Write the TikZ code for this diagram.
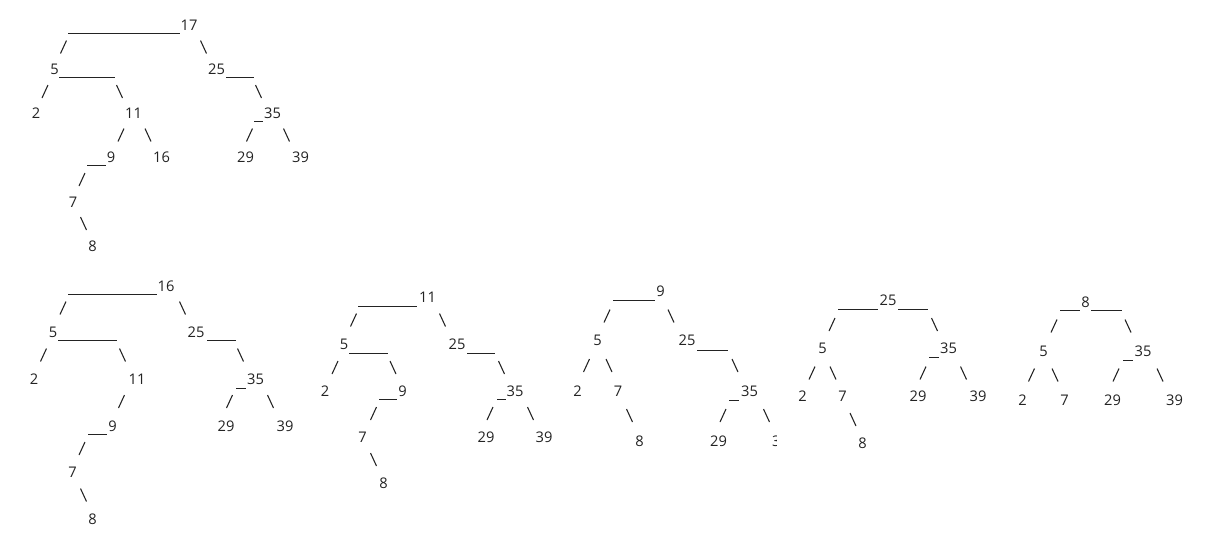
\documentclass[tikz,border=0pt]{standalone}
\usepackage{fontspec}
\setmainfont{Open Sans}
\definecolor{ink}{RGB}{35,35,35}
\tikzset{
  num/.style={inner sep=0pt, anchor=center, text=ink, font=\fontsize{11}{13}\selectfont},
  bar/.style={draw=ink, line width=0.75pt},
  edge/.style={draw=ink, line width=0.8pt},
}
\newcommand\fsl[2]{\draw[edge] (#1-3,#2+6.5) -- (#1+3,#2-6.5);}
\newcommand\bsl[2]{\draw[edge] (#1-3,#2-6.5) -- (#1+3,#2+6.5);}
\newcommand\usc[3]{\draw[bar] (#1,#3) -- (#2,#3);}
\begin{document}
\begin{tikzpicture}[x=0.75pt,y=-0.75pt]
\useasboundingbox (0,0) rectangle (1205,544);
\fill[white] (0,0) rectangle (1205,544);
% ---------- tree 1 ----------
\node[num] (a17) at (189,25.5) {17};
\usc{68}{180}{33.3}
\fsl{63.5}{47} \bsl{203.5}{47}
\node[num] (a5) at (54.5,69) {5}; \usc{59.3}{115}{77.3}
\node[num] (a25) at (216.5,69) {25}; \usc{226}{254}{77.3}
\fsl{45}{91.5} \bsl{119.5}{91.5} \bsl{258.5}{91.5}
\node[num] (a2) at (36,113) {2};
\node[num] (a11) at (133.5,113) {11};
\usc{254}{263}{121.5}
\node[num] (a35) at (272.5,113) {35};
\fsl{121}{135} \bsl{148}{135} \fsl{249.5}{135} \bsl{286.5}{135}
\usc{87}{106}{165.5}
\node[num] (a9) at (111,157) {9};
\node[num] (a16) at (161.5,157) {16};
\node[num] (a29) at (245.5,157) {29};
\node[num] (a39) at (300.5,157) {39};
\fsl{82}{179.5}
\node[num] (a7) at (73,202) {7};
\bsl{83.5}{223.5}
\node[num] (a8) at (92.5,246) {8};
% ---------- tree 2 ----------
\node[num] (b16) at (166,286) {16};
\usc{68}{157}{294}
\fsl{63}{308} \bsl{182.5}{308}
\node[num] (b5) at (53,332.5) {5}; \usc{58}{117}{340.7}
\node[num] (b25) at (196,332.5) {25}; \usc{207}{236}{340.7}
\fsl{43.5}{355} \bsl{122.5}{355} \bsl{240.5}{355}
\node[num] (b2) at (34,379.5) {2};
\node[num] (b11) at (137,379.5) {11};
\usc{236}{246}{388}
\node[num] (b35) at (255.5,379.5) {35};
\fsl{121.5}{401.5} \fsl{229.5}{401.5} \bsl{270.5}{401.5}
\usc{88}{107}{434.5}
\node[num] (b9) at (112.5,426) {9};
\node[num] (b29) at (226,426) {29};
\node[num] (b39) at (285,426) {39};
\fsl{82}{448.5}
\node[num] (b7) at (72.5,472.5) {7};
\bsl{83.5}{495}
\node[num] (b8) at (92.5,519) {8};
% ---------- tree 3 ----------
\node[num] (c11) at (427.5,297.5) {11};
\usc{358}{417}{306}
\fsl{353.5}{320} \bsl{442.5}{320}
\node[num] (c5) at (344,344) {5}; \usc{349}{388}{353}
\node[num] (c25) at (457,344) {25}; \usc{467}{495}{353}
\fsl{335}{367.5} \bsl{393}{367.5} \bsl{501.5}{367.5}
\node[num] (c2) at (325,391) {2};
\usc{379}{397}{399}
\node[num] (c9) at (402.5,391) {9};
\usc{497}{506}{399}
\node[num] (c35) at (515,391) {35};
\fsl{373.5}{413.5} \fsl{490}{413.5} \bsl{530.5}{413.5}
\node[num] (c7) at (362.5,437.5) {7};
\node[num] (c29) at (486,437.5) {29};
\node[num] (c39) at (544,437.5) {39};
\bsl{373.5}{459.5}
\node[num] (c8) at (383.5,483) {8};
% ---------- tree 4 ----------
\node[num] (d9) at (660.5,291) {9};
\usc{613}{655}{300.2}
\fsl{607}{316} \bsl{671}{316}
\node[num] (d5) at (597.5,340.5) {5};
\node[num] (d25) at (687,340.5) {25}; \usc{697}{728}{350}
\fsl{586.5}{365.5} \bsl{609}{365.5} \bsl{735}{365.5}
\node[num] (d2) at (577.5,391) {2};
\node[num] (d7) at (618,391) {7};
\usc{729}{739}{400}
\node[num] (d35) at (749.5,391) {35};
\bsl{629.5}{415.5} \fsl{723}{415.5} \bsl{766.5}{415.5}
\node[num] (d8) at (639.5,441) {8};
\node[num] (d29) at (718.5,441) {29};
\begin{scope}
\clip (760,420) rectangle (776.5,460);
\node[num] (d39) at (780.5,441) {39};
\end{scope}
% ---------- tree 5 ----------
\node[num] (e25) at (888,300.5) {25};
\usc{838}{878}{309.3} \usc{898}{928}{309.3}
\fsl{832}{324.5} \bsl{934.5}{324.5}
\node[num] (e5) at (822.5,348.5) {5};
\usc{929}{939}{357.5}
\node[num] (e35) at (948.5,348.5) {35};
\fsl{812}{373} \bsl{833}{373} \fsl{923}{373} \bsl{963.5}{373}
\node[num] (e2) at (802.5,396) {2};
\node[num] (e7) at (842.5,396) {7};
\node[num] (e29) at (918,396) {29};
\node[num] (e39) at (978,396) {39};
\bsl{853}{419.5}
\node[num] (e8) at (862.5,443) {8};
% ---------- tree 6 ----------
\node[num] (f8) at (1085.5,302.5) {8};
\usc{1060}{1080}{310.7} \usc{1091}{1122}{310.7}
\fsl{1054}{326} \bsl{1128}{326}
\node[num] (f5) at (1043.5,351) {5};
\usc{1123}{1133}{360.2}
\node[num] (f35) at (1143,351) {35};
\fsl{1031.5}{375} \bsl{1055}{375} \fsl{1116}{375} \bsl{1160}{375}
\node[num] (f2) at (1022.5,400) {2};
\node[num] (f7) at (1064.5,400) {7};
\node[num] (f29) at (1112.5,400) {29};
\node[num] (f39) at (1174.5,400) {39};
\end{tikzpicture}
\end{document}
